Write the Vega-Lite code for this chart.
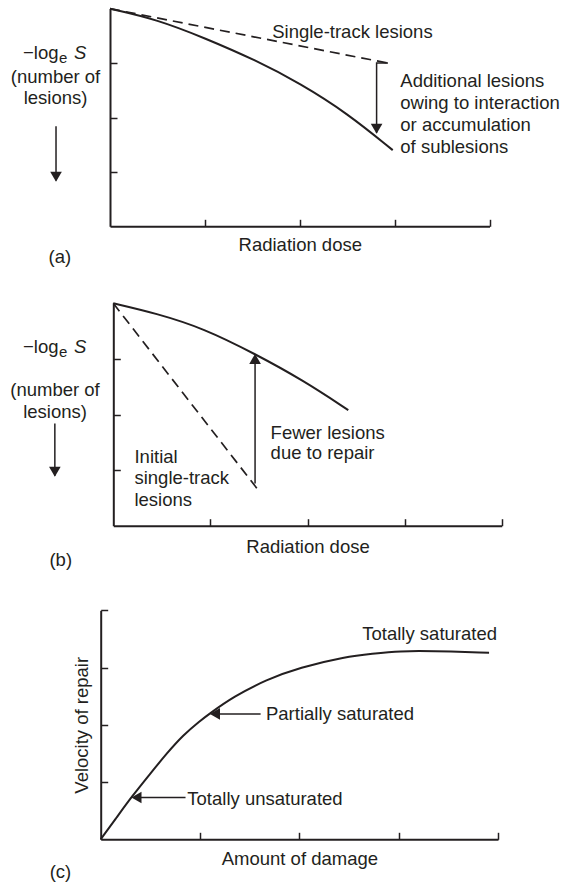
{
  "$schema": "https://vega.github.io/schema/vega-lite/v6.json",
  "width": 572,
  "height": 882,
  "autosize": {"type": "none"},
  "padding": 0,
  "background": "white",
  "config": {
    "view": {"stroke": null},
    "font": "Liberation Sans",
    "text": {"font": "Liberation Sans", "fontSize": 18.5, "color": "#231f20", "baseline": "middle"},
    "line": {"color": "#231f20"},
    "point": {"color": "#231f20", "filled": true, "opacity": 1, "size": 135},
    "axis": {
      "labels": false, "grid": false,
      "domainColor": "#231f20", "domainWidth": 2,
      "tickColor": "#231f20", "tickWidth": 1.5, "tickSize": -7,
      "titleFont": "Liberation Sans", "titleFontSize": 18.5, "titleFontWeight": "normal", "titleColor": "#231f20"
    }
  },
  "resolve": {"scale": {"x": "independent", "y": "independent"}, "axis": {"x": "independent", "y": "independent"}},
  "layer": [
    {
      "encoding": {
        "x": {"field": "x", "type": "quantitative", "scale": {"domain": [0, 4], "range": [110, 489.5], "nice": false, "zero": false},
              "axis": {"orient": "bottom", "offset": -655.7, "values": [1, 2, 3, 4], "title": "Radiation dose", "titlePadding": 8}},
        "y": {"field": "y", "type": "quantitative", "scale": {"domain": [0, 4], "range": [226.3, 8.7], "nice": false, "zero": false},
              "axis": {"orient": "left", "offset": -110, "values": [1, 2, 3], "title": null}}
      },
      "layer": [
        {"data": {"values": [{"x": 0, "y": 4}, {"x": 0.5, "y": 3.8}, {"x": 1, "y": 3.46}, {"x": 1.54, "y": 3.05}, {"x": 2, "y": 2.63}, {"x": 2.5, "y": 2.08}, {"x": 2.98, "y": 1.4}]},
         "mark": {"type": "line", "strokeWidth": 2, "interpolate": "basis"}},
        {"data": {"values": [{"x": 0, "y": 4}, {"x": 2.93, "y": 3}]},
         "mark": {"type": "line", "strokeWidth": 1.7, "strokeDash": [10, 6]}},
        {"data": {"values": [
          {"seg": "p", "i": 0, "x": 2.93, "y": 3}, {"seg": "p", "i": 1, "x": 2.81, "y": 3}, {"seg": "p", "i": 2, "x": 2.81, "y": 1.72},
          {"seg": "q", "i": 0, "x": -0.569, "y": 1.84}, {"seg": "q", "i": 1, "x": -0.569, "y": 0.84}]},
         "mark": {"type": "line", "strokeWidth": 1.5},
         "encoding": {"detail": {"field": "seg"}, "order": {"field": "i"}}},
        {"data": {"values": [{"x": 2.81, "y": 1.7}, {"x": -0.569, "y": 0.82}]},
         "mark": {"type": "point", "shape": "triangle-down", "yOffset": -5}},
        {"data": {"values": [
          {"t": "Single-track lesions", "x": 1.71, "y": 3.566},
          {"t": "Additional lesions", "x": 3.06, "y": 2.67},
          {"t": "owing to interaction", "x": 3.06, "y": 2.27},
          {"t": "or accumulation", "x": 3.06, "y": 1.86},
          {"t": "of sublesions", "x": 3.06, "y": 1.46}]},
         "mark": {"type": "text", "align": "left"},
         "encoding": {"text": {"field": "t"}}},
        {"data": {"values": [
          {"t": "(number of", "x": -0.574, "y": 2.75},
          {"t": "lesions)", "x": -0.574, "y": 2.35},
          {"t": "(a)", "x": -0.529, "y": -0.559}]},
         "mark": {"type": "text", "align": "center"},
         "encoding": {"text": {"field": "t"}}},
        {"data": {"values": [{"t": "−log", "x": -0.543, "y": 3.186}]},
         "mark": {"type": "text", "align": "right"},
         "encoding": {"text": {"field": "t"}}},
        {"data": {"values": [{"t": "e", "x": -0.537, "y": 3.1}]},
         "mark": {"type": "text", "align": "left", "fontSize": 15},
         "encoding": {"text": {"field": "t"}}},
        {"data": {"values": [{"t": "S", "x": -0.379, "y": 3.186}]},
         "mark": {"type": "text", "align": "left", "fontStyle": "italic"},
         "encoding": {"text": {"field": "t"}}}
      ]
    },
    {
      "encoding": {
        "x": {"field": "x", "type": "quantitative", "scale": {"domain": [0, 4], "range": [113.3, 501.7], "nice": false, "zero": false},
              "axis": {"orient": "bottom", "offset": -356.3, "values": [1, 2, 3, 4], "title": "Radiation dose", "titlePadding": 11.5}},
        "y": {"field": "y", "type": "quantitative", "scale": {"domain": [0, 4], "range": [525.7, 303.3], "nice": false, "zero": false},
              "axis": {"orient": "left", "offset": -113.3, "values": [1, 2, 3], "title": null}}
      },
      "layer": [
        {"data": {"values": [{"x": 0, "y": 4}, {"x": 0.44, "y": 3.82}, {"x": 0.93, "y": 3.55}, {"x": 1.46, "y": 3.09}, {"x": 1.95, "y": 2.62}, {"x": 2.42, "y": 2.08}]},
         "mark": {"type": "line", "strokeWidth": 2, "interpolate": "basis"}},
        {"data": {"values": [{"x": 0, "y": 4}, {"x": 1.48, "y": 0.67}]},
         "mark": {"type": "line", "strokeWidth": 1.7, "strokeDash": [10, 6]}},
        {"data": {"values": [
          {"seg": "p", "i": 0, "x": 1.46, "y": 0.76}, {"seg": "p", "i": 1, "x": 1.46, "y": 3.05},
          {"seg": "q", "i": 0, "x": -0.602, "y": 1.84}, {"seg": "q", "i": 1, "x": -0.602, "y": 0.9}]},
         "mark": {"type": "line", "strokeWidth": 1.5},
         "encoding": {"detail": {"field": "seg"}, "order": {"field": "i"}}},
        {"data": {"values": [{"x": 1.46, "y": 3.09}]},
         "mark": {"type": "point", "shape": "triangle-up", "yOffset": 5}},
        {"data": {"values": [{"x": -0.602, "y": 0.88}]},
         "mark": {"type": "point", "shape": "triangle-down", "yOffset": -5}},
        {"data": {"values": [
          {"t": "Fewer lesions", "x": 1.62, "y": 1.676},
          {"t": "due to repair", "x": 1.62, "y": 1.3},
          {"t": "Initial", "x": 0.218, "y": 1.24},
          {"t": "single-track", "x": 0.218, "y": 0.863},
          {"t": "lesions", "x": 0.218, "y": 0.462}]},
         "mark": {"type": "text", "align": "left"},
         "encoding": {"text": {"field": "t"}}},
        {"data": {"values": [
          {"t": "(number of", "x": -0.6, "y": 2.44},
          {"t": "lesions)", "x": -0.6, "y": 2.045},
          {"t": "(b)", "x": -0.541, "y": -0.617}]},
         "mark": {"type": "text", "align": "center"},
         "encoding": {"text": {"field": "t"}}},
        {"data": {"values": [{"t": "−log", "x": -0.564, "y": 3.22}]},
         "mark": {"type": "text", "align": "right"},
         "encoding": {"text": {"field": "t"}}},
        {"data": {"values": [{"t": "e", "x": -0.559, "y": 3.13}]},
         "mark": {"type": "text", "align": "left", "fontSize": 15},
         "encoding": {"text": {"field": "t"}}},
        {"data": {"values": [{"t": "S", "x": -0.405, "y": 3.22}]},
         "mark": {"type": "text", "align": "left", "fontStyle": "italic"},
         "encoding": {"text": {"field": "t"}}}
      ]
    },
    {
      "encoding": {
        "x": {"field": "x", "type": "quantitative", "scale": {"domain": [0, 4], "range": [100.7, 498], "nice": false, "zero": false},
              "axis": {"orient": "bottom", "offset": -42.7, "values": [1, 2, 3, 4], "title": "Amount of damage", "titlePadding": 9.5}},
        "y": {"field": "y", "type": "quantitative", "scale": {"domain": [0, 4], "range": [839.3, 610.3], "nice": false, "zero": false},
              "axis": {"orient": "left", "offset": -100.7, "values": [1, 2, 3, 4], "title": "Velocity of repair", "titlePadding": 8}}
      },
      "layer": [
        {"data": {"values": [
          {"x": 0, "y": 0}, {"x": 0.16, "y": 0.38}, {"x": 0.31, "y": 0.74}, {"x": 0.5, "y": 1.15}, {"x": 0.665, "y": 1.5},
          {"x": 0.83, "y": 1.82}, {"x": 1.0, "y": 2.07}, {"x": 1.1, "y": 2.2}, {"x": 1.335, "y": 2.49}, {"x": 1.67, "y": 2.79},
          {"x": 2.0, "y": 3.0}, {"x": 2.47, "y": 3.19}, {"x": 2.73, "y": 3.24}, {"x": 3.02, "y": 3.29}, {"x": 3.32, "y": 3.29}, {"x": 3.91, "y": 3.26}]},
         "mark": {"type": "line", "strokeWidth": 2, "interpolate": "basis"}},
        {"data": {"values": [
          {"seg": "p", "i": 0, "x": 1.61, "y": 2.19}, {"seg": "p", "i": 1, "x": 1.12, "y": 2.19},
          {"seg": "q", "i": 0, "x": 0.854, "y": 0.73}, {"seg": "q", "i": 1, "x": 0.34, "y": 0.73}]},
         "mark": {"type": "line", "strokeWidth": 1.5},
         "encoding": {"detail": {"field": "seg"}, "order": {"field": "i"}}},
        {"data": {"values": [{"x": 1.1, "y": 2.19}, {"x": 0.31, "y": 0.73}]},
         "mark": {"type": "point", "shape": "triangle-left", "xOffset": 5}},
        {"data": {"values": [
          {"t": "Partially saturated", "x": 1.664, "y": 2.18},
          {"t": "Totally unsaturated", "x": 0.872, "y": 0.7}]},
         "mark": {"type": "text", "align": "left"},
         "encoding": {"text": {"field": "t"}}},
        {"data": {"values": [{"t": "Totally saturated", "x": 3.99, "y": 3.586}]},
         "mark": {"type": "text", "align": "right"},
         "encoding": {"text": {"field": "t"}}},
        {"data": {"values": [{"t": "(c)", "x": -0.405, "y": -0.566}]},
         "mark": {"type": "text", "align": "center"},
         "encoding": {"text": {"field": "t"}}}
      ]
    }
  ]
}
